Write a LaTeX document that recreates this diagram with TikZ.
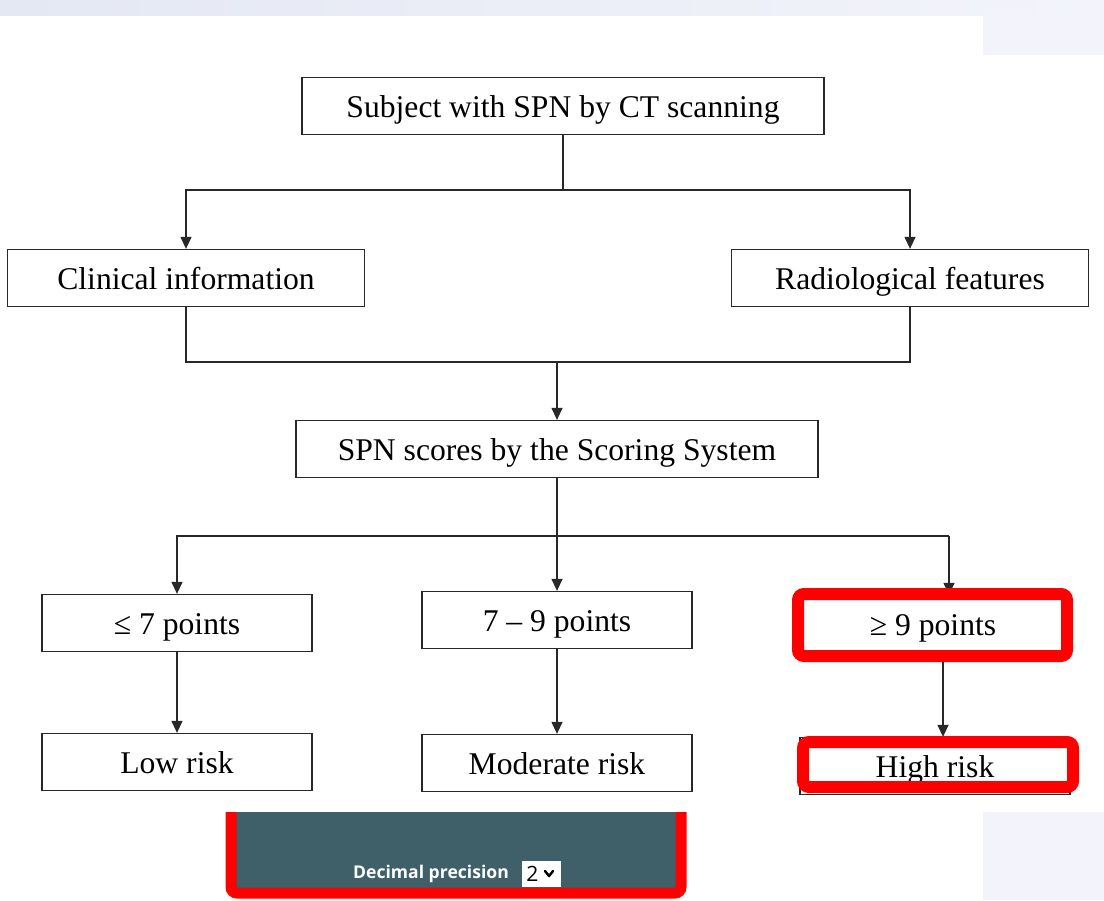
\documentclass[tikz,border=0pt]{standalone}
\usepackage{fontspec}
\setmainfont{Liberation Serif}
\newfontfamily\uifont{Open Sans}
\usetikzlibrary{arrows.meta,positioning}
\definecolor{boxgray}{RGB}{40,40,40}
\definecolor{panelteal}{RGB}{63,96,104}
\definecolor{haze}{RGB}{228,232,243}
\definecolor{hazelight}{RGB}{243,244,251}
\definecolor{markred}{RGB}{255,0,0}

\begin{document}
\begin{tikzpicture} [x = 0.02cm, y = -0.02cm,
  box/.style = {draw = boxgray, line width = 0.75pt, fill = white, inner sep = 0pt,
    minimum height = 1.14cm, text height = 13.5pt, text depth = 0pt,
    font = \fontsize{18}{22}\selectfont},
  wide/.style = {box, minimum width = 10.44cm},
  side/.style = {box, minimum width = 7.14cm},
  small/.style = {box, minimum width = 5.4cm},
  arrow/.style = {-{Triangle[length = 0.24cm, width = 0.22cm]}, boxgray, line width = 0.75pt},
  link/.style = {boxgray, line width = 0.75pt},
  redmark/.style = {markred, line width = 0.24cm, rounded corners = 0.12cm}]
\useasboundingbox (0, 0) rectangle (1104, 900);
% screenshot haze
\fill[left color = haze, right color = hazelight] (0, 0) rectangle (1104, 15);
\fill[hazelight] (983, 15) rectangle (1104, 55);
\fill[hazelight] (983, 812) rectangle (1104, 900);
% boxes
\node[wide] (subject) at (563, 106) {Subject with SPN by CT scanning};
\node[side] (clinic) at (186, 278) {Clinical information};
\node[side] (radio) at (910, 278) {Radiological features};
\node[wide] (score) at (557, 449) {SPN scores by the Scoring System};
\node[small] (lowpt) at (177, 623) {≤ 7 points};
\node[small] (midpt) at (557, 620) {7 – 9 points};
\node[small, minimum width = 5.32cm] (highpt) at (933, 624) {≥ 9 points};
\node[small] (lowrisk) at (177, 762) {Low risk};
\node[small] (midrisk) at (557, 763) {Moderate risk};
\node[small] (highrisk) at (935, 766) {High risk};
% connectors
\coordinate (split) at (563, 190);
\coordinate (join) at (557, 362);
\coordinate (fork) at (557, 536);
\coordinate (forkright) at (949, 536);
\coordinate (highx) at (943, 700);
\draw[link] (subject) -- (split);
\draw[arrow] (split) -| (clinic.north);
\draw[arrow] (split) -| (radio.north);
\draw[link] (clinic.south) |- (join) -| (radio.south);
\draw[arrow] (join) -- (score.north);
\draw[link] (score.south) -- (fork);
\draw[arrow] (fork) -| (lowpt.north);
\draw[arrow] (fork) -- (midpt.north);
\draw[link] (fork) -- (forkright);
\draw[arrow] (forkright) -- (forkright |- highpt.north);
\draw[arrow] (lowpt) -- (lowrisk);
\draw[arrow] (midpt) -- (midrisk);
\draw[arrow] (highpt.south -| highx) -- (highrisk.north -| highx);
% red highlights
\draw[redmark] (798, 594) rectangle (1067, 656);
\draw[redmark] (803, 742) rectangle (1073, 787);
% settings panel
\fill[panelteal] (231, 812) rectangle (681, 893);
\draw[redmark, line width = 0.22cm] (231, 812) -- (231, 893) -- (681, 893) -- (681, 812);
\node[text = white, font = \uifont\bfseries\fontsize{10}{12}\selectfont] (precision) at (431, 874) {Decimal precision};
\node[fill = white, inner sep = 0pt, minimum width = 0.78cm, minimum height = 0.52cm,
  anchor = north west] (select) at (522, 861) {};
\node[font = \uifont\fontsize{12}{14}\selectfont, anchor = west, inner sep = 0pt] (digit) at (526, 874) {2};
\draw[line width = 1.4pt, line cap = round, line join = round] (545, 871) -- (549, 876) -- (553, 871);
\end{tikzpicture}
\end{document}
